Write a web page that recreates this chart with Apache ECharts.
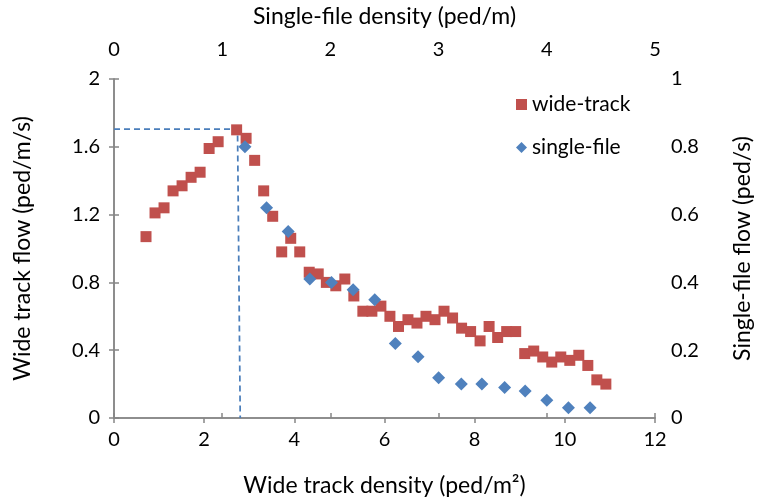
<!DOCTYPE html>
<html>
<head>
<meta charset="utf-8">
<script src="https://cdn.jsdelivr.net/npm/echarts@6/dist/echarts.min.js"></script>
<style>html,body{margin:0;padding:0;background:#fff;}#c{width:762px;height:503px;}</style>
</head>
<body>
<div id="c"></div>
<script>
// Wide-track data (bottom x axis, left y axis)
var wideX = [0.71,0.91,1.11,1.31,1.51,1.71,1.91,2.11,2.31,2.72,2.93,3.12,3.32,3.52,3.72,3.92,4.12,4.33,4.53,4.71,4.92,5.12,5.32,5.52,5.72,5.92,6.12,6.31,6.52,6.72,6.92,7.12,7.32,7.51,7.71,7.91,8.12,8.32,8.51,8.71,8.91,9.11,9.31,9.51,9.71,9.91,10.11,10.31,10.51,10.71,10.91];
var wideY = [1.07,1.21,1.24,1.34,1.37,1.42,1.45,1.59,1.63,1.70,1.65,1.52,1.34,1.19,0.98,1.06,0.98,0.86,0.85,0.80,0.78,0.82,0.72,0.63,0.63,0.66,0.60,0.54,0.58,0.56,0.60,0.58,0.63,0.59,0.53,0.51,0.455,0.54,0.475,0.51,0.51,0.38,0.395,0.36,0.33,0.36,0.34,0.37,0.31,0.225,0.20];
// Single-file data (top x axis, right y axis)
var singleX = [1.21,1.41,1.61,1.81,2.01,2.21,2.41,2.60,2.81,3.00,3.21,3.40,3.61,3.80,4.00,4.20,4.40];
var singleY = [0.80,0.62,0.55,0.41,0.40,0.378,0.349,0.22,0.181,0.119,0.10,0.10,0.09,0.08,0.052,0.03,0.03];
// Dashed guide (peak)
var guideX = [0, 2.74, 2.80];
var guideY = [1.705, 1.705, 0];

function zip(a, b) { return a.map(function (v, i) { return [v, b[i]]; }); }

var FONT = 'Lato';
var axisColor = '#868686';
var textColor = '#000';
var TICK = 20, TITLE = 23;

var chart = echarts.init(document.getElementById('c'), null, {renderer: 'canvas'});
chart.setOption({
  animation: false,
  backgroundColor: '#fff',
  textStyle: {fontFamily: FONT},
  grid: {left: 114, right: 105, top: 75, bottom: 85, containLabel: false},
  legend: {
    orient: 'vertical', left: 511, top: 89, itemGap: 22,
    itemWidth: 11, itemHeight: 11,
    textStyle: {fontFamily: FONT, fontSize: 21, color: textColor},
    data: [{name: 'wide-track', icon: 'rect'}, {name: 'single-file', icon: 'diamond'}]
  },
  xAxis: [{
    type: 'value', position: 'bottom', min: 0, max: 12, interval: 2,
    name: 'Wide track density (ped/m²)', nameLocation: 'middle', nameGap: 56,
    nameTextStyle: {fontFamily: FONT, fontSize: TITLE, color: textColor},
    axisLine: {show: true, lineStyle: {color: axisColor, width: 1.5}},
    axisTick: {show: true, length: 5, lineStyle: {color: axisColor, width: 1.5}},
    axisLabel: {fontFamily: FONT, fontSize: TICK, color: textColor, margin: 12},
    splitLine: {show: false}
  }, {
    type: 'value', position: 'top', min: 0, max: 5, interval: 1,
    name: 'Single-file density (ped/m)', nameLocation: 'middle', nameGap: 51,
    nameTextStyle: {fontFamily: FONT, fontSize: TITLE, color: textColor},
    axisLine: {show: true, lineStyle: {color: axisColor, width: 1.5}},
    axisTick: {show: true, length: 5, lineStyle: {color: axisColor, width: 1.5}},
    axisLabel: {fontFamily: FONT, fontSize: TICK, color: textColor, margin: 19},
    splitLine: {show: false}
  }],
  yAxis: [{
    type: 'value', position: 'left', min: 0, max: 2, interval: 0.4,
    name: 'Wide track flow (ped/m/s)', nameLocation: 'middle', nameGap: 80, nameRotate: 90,
    nameTextStyle: {fontFamily: FONT, fontSize: TITLE, color: textColor},
    axisLine: {show: true, lineStyle: {color: axisColor, width: 1.5}},
    axisTick: {show: true, length: 5, lineStyle: {color: axisColor, width: 1.5}},
    axisLabel: {fontFamily: FONT, fontSize: TICK, color: textColor, margin: 14},
    splitLine: {show: false}
  }, {
    type: 'value', position: 'right', min: 0, max: 1, interval: 0.2,
    name: 'Single-file flow (ped/s)', nameLocation: 'middle', nameGap: 76, nameRotate: 90,
    nameTextStyle: {fontFamily: FONT, fontSize: TITLE, color: textColor},
    axisLine: {show: true, lineStyle: {color: axisColor, width: 1.5}},
    axisTick: {show: true, length: 5, lineStyle: {color: axisColor, width: 1.5}},
    axisLabel: {fontFamily: FONT, fontSize: TICK, color: textColor, margin: 16},
    splitLine: {show: false}
  }],
  series: [{
    name: 'guide', type: 'line', xAxisIndex: 0, yAxisIndex: 0,
    data: zip(guideX, guideY), symbol: 'none', silent: true,
    lineStyle: {color: '#4a7ebb', width: 1.75, type: [6, 4]}, z: 1
  }, {
    name: 'wide-track', type: 'scatter', xAxisIndex: 0, yAxisIndex: 0,
    data: zip(wideX, wideY), symbol: 'rect', symbolSize: 11,
    itemStyle: {color: '#c0504d', opacity: 1}, z: 2
  }, {
    name: 'single-file', type: 'scatter', xAxisIndex: 1, yAxisIndex: 1,
    data: zip(singleX, singleY), symbol: 'diamond', symbolSize: 13,
    itemStyle: {color: '#4f81bd', opacity: 1}, z: 3
  }]
});
</script>
</body>
</html>
